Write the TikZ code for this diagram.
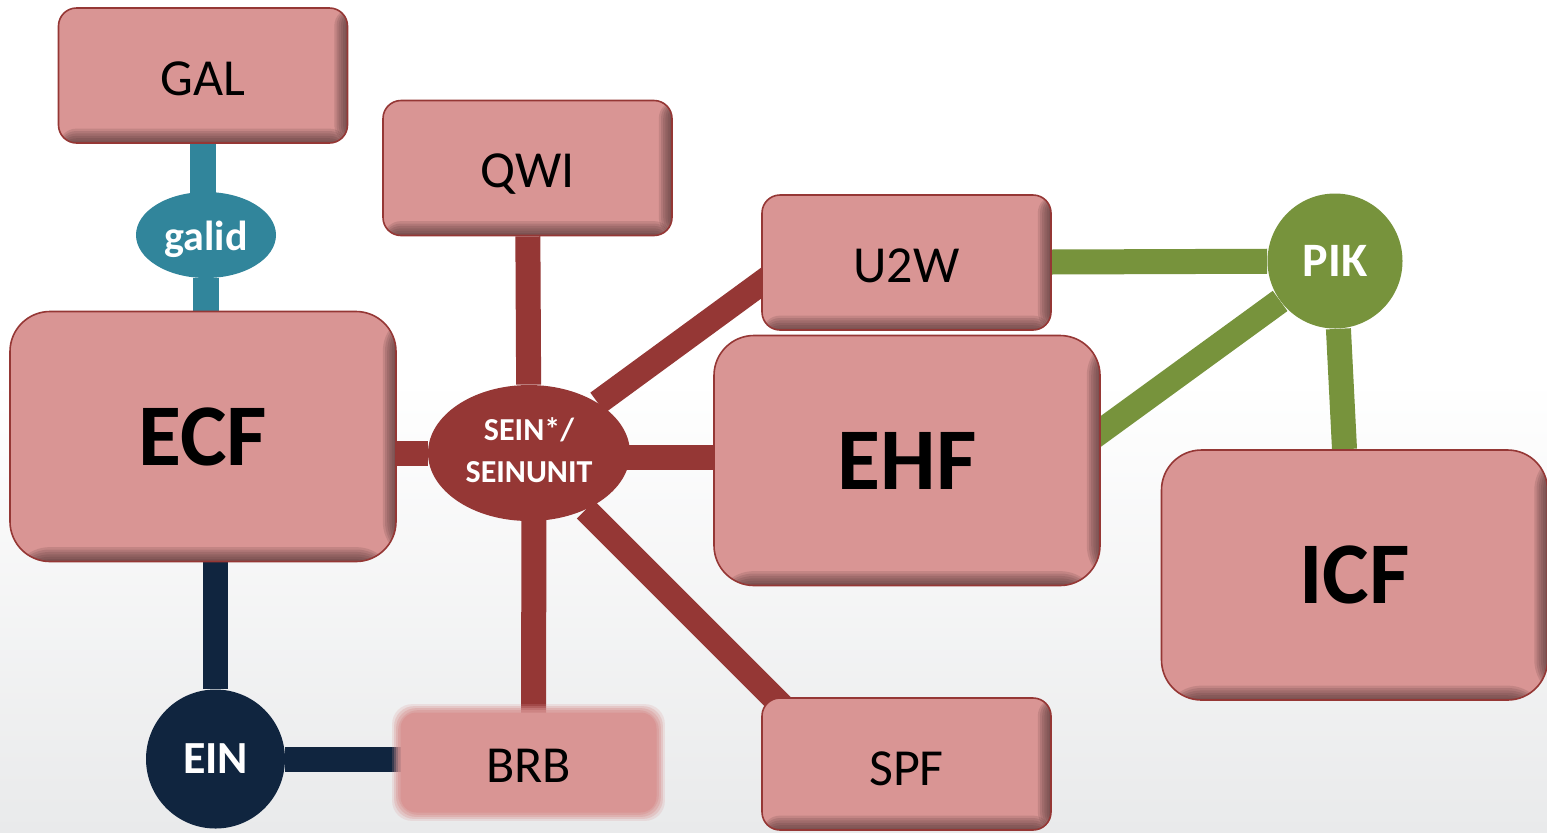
\documentclass[tikz,border=0pt]{standalone}
\usepackage{fontspec}
\setmainfont{Carlito}
\usetikzlibrary{shapes.geometric,calc}
\definecolor{boxpink}{RGB}{217,149,148}
\definecolor{boxline}{RGB}{149,55,53}
\definecolor{redline}{RGB}{149,55,53}
\definecolor{tealc}{RGB}{49,133,155}
\definecolor{navyc}{RGB}{16,37,63}
\definecolor{greenc}{RGB}{119,147,60}
\definecolor{shadowc}{RGB}{70,45,45}
\definecolor{bgbot}{RGB}{233,234,235}
\pgfdeclarelayer{background}
\pgfsetlayers{background,main}
\tikzset{
  shadowed/.style={path picture={
    \foreach \k in {1,...,6}{
      \fill[shadowc,opacity=0.15] ([xshift={-\k*1.1pt}]path picture bounding box.north east) rectangle (path picture bounding box.south east);
      \fill[shadowc,opacity=0.15] ([yshift={\k*1.2pt}]path picture bounding box.south west) rectangle (path picture bounding box.south east);
    }}},
  smallbox/.style={shadowed, rectangle, rounded corners=9pt, draw=boxline, line width=0.8pt,
    fill=boxpink, inner sep=0pt, font=\fontsize{26}{30}\selectfont,
    text height=19.5pt, text depth=0pt,
    minimum width=144.5pt, minimum height=67.5pt},
  bigbox/.style={shadowed, rectangle, rounded corners=20pt, draw=boxline, line width=0.8pt,
    fill=boxpink, inner sep=0pt, font=\bfseries\fontsize{44}{50}\selectfont,
    minimum width=193pt, minimum height=125pt},
  softbox/.style={rectangle, rounded corners=8pt, fill=boxpink, inner sep=0pt,
    font=\fontsize{26}{30}\selectfont, text height=19.5pt, text depth=0pt,
    minimum width=128pt, minimum height=50pt},
  hub/.style={fill=#1, text=white, inner sep=0pt},
  conn/.style={line width=12.5pt},
}
\begin{document}
\begin{tikzpicture}[x=0.5pt,y=-0.5pt]
\useasboundingbox (0,0) rectangle (1547,832);
% nodes
\node[smallbox] (gal) at (203,75.5) {GAL};
\node[smallbox] (qwi) at (527.5,168) {QWI};
\node[smallbox] (u2w) at (906.5,262.5) {U2W};
\node[smallbox, minimum height=66pt, text height=21pt] (spf) at (906.5,764) {SPF};
\node[bigbox] (ecf) at (203,436.5) {ECF};
\node[bigbox] (ehf) at (907,460.5) {EHF};
\node[bigbox] (icf) at (1354.5,575) {ICF};
\node[softbox] (brb) at (528.5,762.5) {BRB};
\node[hub=tealc, ellipse, minimum width=70pt, minimum height=43pt,
  text height=15pt, text depth=0pt,
  font=\bfseries\fontsize{21}{24}\selectfont] (galid) at (206,235) {galid};
\node[hub=redline, ellipse, minimum width=101pt, minimum height=68pt, align=center,
  text depth=3pt,
  font=\bfseries\fontsize{16}{21}\selectfont] (sein) at (529,453) {SEIN*/\\SEINUNIT};
\node[hub=greenc, circle, minimum size=67.5pt,
  font=\bfseries\fontsize{24}{28}\selectfont] (pik) at (1335,261) {PIK};
\node[hub=navyc, circle, minimum size=69.5pt,
  font=\bfseries\fontsize{23}{27}\selectfont] (ein) at (215.5,759) {EIN};
% background and connectors
\begin{pgfonlayer}{background}
\fill[white] (0,0) rectangle (1547,381);
\shade[top color=white, bottom color=bgbot] (0,380) rectangle (1547,832);
\draw[conn, tealc, line width=13pt] (gal) -- (gal |- galid);
\draw[conn, tealc, line width=13pt] (galid) -- (galid |- ecf);
\draw[conn, redline] (sein) -- (sein -| ecf);
\draw[conn, redline] (sein) -- (qwi);
\draw[conn, redline] (sein) -- ([shift={(25pt,8pt)}]u2w.west);
\draw[conn, redline] ([yshift=-2pt]sein.center) -- ([yshift=-2pt]sein.center -| ehf.center);
\draw[conn, redline] ([xshift=2.5pt]sein.center) -- ([xshift=2.5pt]brb.center);
\draw[conn, redline] (sein) -- ([shift={(19pt,-13pt)}]spf.north west);
\draw[conn, navyc] (ein) -- (ein |- ecf);
\draw[conn, navyc] (ein) -- (ein -| brb);
\draw[conn, greenc] (u2w) -- (pik);
\draw[conn, greenc] (pik) -- ([xshift=-20pt]ehf.east);
\draw[conn, greenc] (pik) -- ([xshift=-5pt]icf.north);
\foreach \e/\o in {4pt/0.2,3pt/0.3,2pt/0.4,1pt/0.5}{
  \fill[boxpink, opacity=\o, rounded corners=10pt]
    ([shift={(-\e,-\e)}]brb.south west) rectangle ([shift={(\e,\e)}]brb.north east);
}
\end{pgfonlayer}
\end{tikzpicture}
\end{document}
